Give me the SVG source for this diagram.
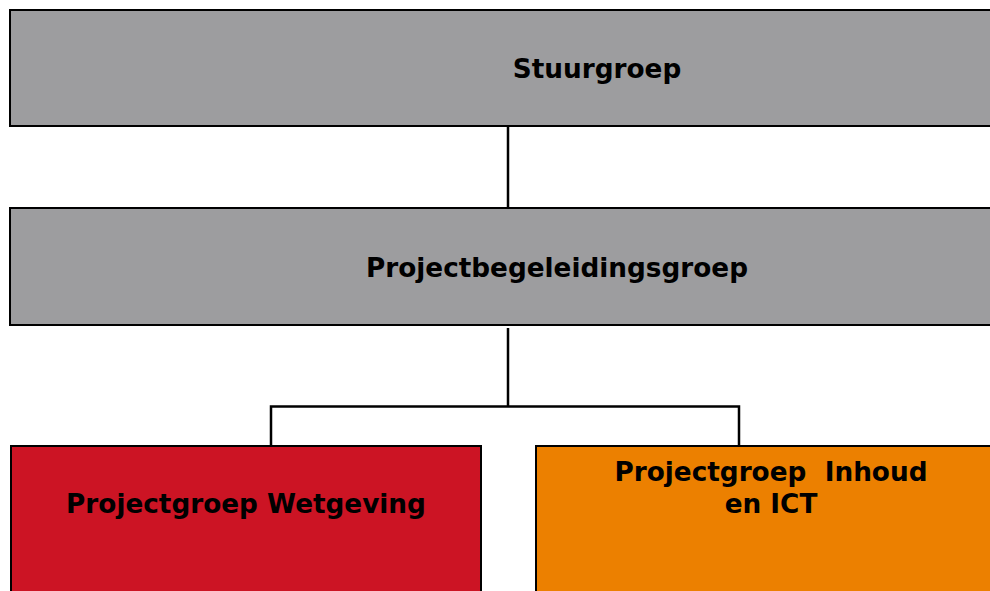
<svg xmlns="http://www.w3.org/2000/svg" width="990" height="591" viewBox="0 0 990 591">
<style>
.box{stroke:#000;stroke-width:2}
.t{font-family:"DejaVu Sans",Verdana,sans-serif;font-weight:bold;font-size:26.3px;fill:#000;text-anchor:middle}
.c{stroke:#000;stroke-width:2.5;fill:none}
</style>
<rect width="990" height="591" fill="#fff"/>
<g id="connectors">
<line class="c" x1="508" y1="126" x2="508" y2="208"/>
<line class="c" x1="508" y1="328" x2="508" y2="407"/>
<polyline class="c" points="271,446 271,406.5 739,406.5 739,446"/>
</g>
<g id="stuurgroep">
<rect class="box" x="10" y="10" width="990" height="116" fill="#9d9d9f"/>
<text class="t" x="597" y="78">Stuurgroep</text>
</g>
<g id="projectbegeleidingsgroep">
<rect class="box" x="10" y="208" width="990" height="117" fill="#9d9d9f"/>
<text class="t" x="557" y="277">Projectbegeleidingsgroep</text>
</g>
<g id="wetgeving">
<rect class="box" x="11" y="446" width="470" height="160" fill="#cc1424"/>
<text class="t" x="246" y="513">Projectgroep Wetgeving</text>
</g>
<g id="inhoud">
<rect class="box" x="536" y="446" width="470" height="160" fill="#ec8000"/>
<text class="t" x="771" y="481" xml:space="preserve">Projectgroep  Inhoud</text>
<text class="t" x="771" y="513">en ICT</text>
</g>
</svg>
